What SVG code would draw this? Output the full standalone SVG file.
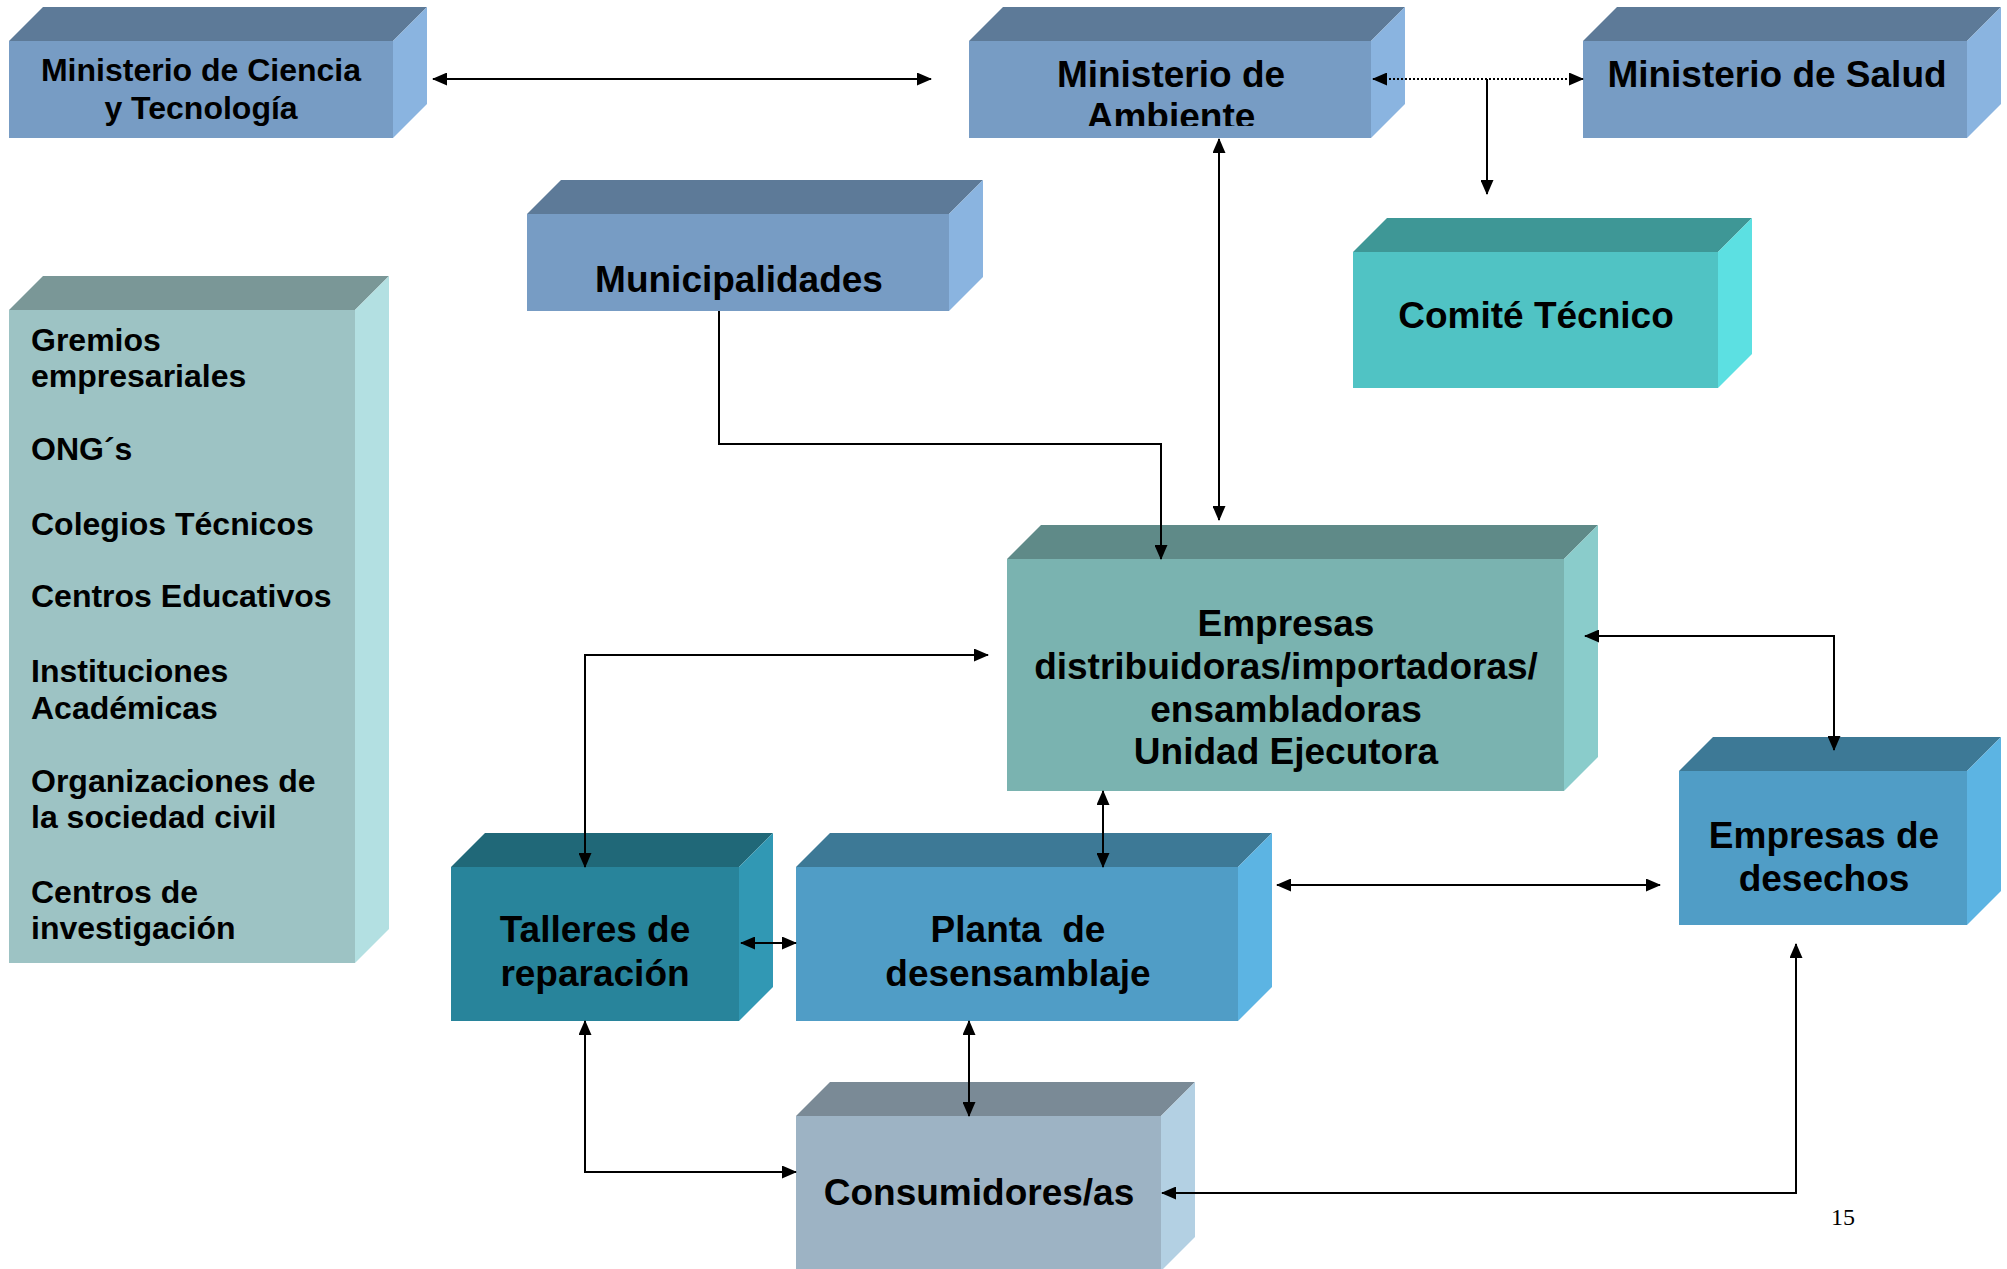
<svg xmlns="http://www.w3.org/2000/svg" width="2007" height="1269" viewBox="0 0 2007 1269">
<style>
text{font-family:"Liberation Sans",Arial,sans-serif;font-weight:bold;fill:#000}
.c{text-anchor:middle;font-size:37px}
.l{font-size:32px}
.ln{fill:none;stroke:#000;stroke-width:2}
.dot{fill:none;stroke:#000;stroke-width:2;stroke-dasharray:2 2}
</style>
<defs>
<marker id="ah" viewBox="0 0 15 13" refX="14" refY="6.5" markerWidth="15" markerHeight="13" markerUnits="userSpaceOnUse" orient="auto-start-reverse">
<path d="M0,0 L15,6.5 L0,13 Z" fill="#000"/>
</marker>
<clipPath id="clipAmb"><rect x="969" y="41" width="402" height="85"/></clipPath>
</defs>
<rect width="2007" height="1269" fill="#fff"/>

<g id="ciencia">
<polygon points="9,41 43,7 427,7 393,41" fill="#5D7A98"/>
<polygon points="393,41 427,7 427,104 393,138" fill="#8AB4E0"/>
<rect x="9" y="41" width="384" height="97" fill="#779CC4"/>
<text class="c" style="font-size:32px" x="201" y="81">Ministerio de Ciencia</text>
<text class="c" style="font-size:32px" x="201" y="119">y Tecnología</text>
</g>

<g id="ambiente">
<polygon points="969,41 1003,7 1405,7 1371,41" fill="#5D7A98"/>
<polygon points="1371,41 1405,7 1405,104 1371,138" fill="#8AB4E0"/>
<rect x="969" y="41" width="402" height="97" fill="#779CC4"/>
<g clip-path="url(#clipAmb)">
<text class="c" x="1171" y="87">Ministerio de</text>
<text class="c" x="1171" y="129">Ambiente</text>
</g>
</g>

<g id="salud">
<polygon points="1583,41 1617,7 2001,7 1967,41" fill="#5D7A98"/>
<polygon points="1967,41 2001,7 2001,104 1967,138" fill="#8AB4E0"/>
<rect x="1583" y="41" width="384" height="97" fill="#779CC4"/>
<text class="c" x="1777" y="87">Ministerio de Salud</text>
</g>

<g id="municipalidades">
<polygon points="527,214 561,180 983,180 949,214" fill="#5D7A98"/>
<polygon points="949,214 983,180 983,277 949,311" fill="#8AB4E0"/>
<rect x="527" y="214" width="422" height="97" fill="#779CC4"/>
<text class="c" x="739" y="292">Municipalidades</text>
</g>

<g id="comite">
<polygon points="1353,252 1387,218 1752,218 1718,252" fill="#3E9796"/>
<polygon points="1718,252 1752,218 1752,354 1718,388" fill="#5CE0E2"/>
<rect x="1353" y="252" width="365" height="136" fill="#50C3C4"/>
<text class="c" x="1536" y="328">Comité Técnico</text>
</g>

<g id="actores">
<polygon points="9,310 43,276 389,276 355,310" fill="#7A9797"/>
<polygon points="355,310 389,276 389,929 355,963" fill="#B3E0E2"/>
<rect x="9" y="310" width="346" height="653" fill="#9DC3C4"/>
<text class="l" x="31" y="351">Gremios</text>
<text class="l" x="31" y="387">empresariales</text>
<text class="l" x="31" y="460">ONG´s</text>
<text class="l" x="31" y="535">Colegios Técnicos</text>
<text class="l" x="31" y="607">Centros Educativos</text>
<text class="l" x="31" y="682">Instituciones</text>
<text class="l" x="31" y="719">Académicas</text>
<text class="l" x="31" y="792">Organizaciones de</text>
<text class="l" x="31" y="828">la sociedad civil</text>
<text class="l" x="31" y="903">Centros de</text>
<text class="l" x="31" y="939">investigación</text>
</g>

<g id="empresas">
<polygon points="1007,559 1041,525 1598,525 1564,559" fill="#5F8A88"/>
<polygon points="1564,559 1598,525 1598,757 1564,791" fill="#8ACCCB"/>
<rect x="1007" y="559" width="557" height="232" fill="#7AB3B0"/>
<text class="c" x="1286" y="636">Empresas</text>
<text class="c" x="1286" y="679">distribuidoras/importadoras/</text>
<text class="c" x="1286" y="722">ensambladoras</text>
<text class="c" x="1286" y="764">Unidad Ejecutora</text>
</g>

<g id="talleres">
<polygon points="451,867 485,833 773,833 739,867" fill="#206878"/>
<polygon points="739,867 773,833 773,987 739,1021" fill="#3198B4"/>
<rect x="451" y="867" width="288" height="154" fill="#28849B"/>
<text class="c" x="595" y="942">Talleres de</text>
<text class="c" x="595" y="986">reparación</text>
</g>

<g id="planta">
<polygon points="796,867 830,833 1272,833 1238,867" fill="#3D7996"/>
<polygon points="1238,867 1272,833 1272,987 1238,1021" fill="#5CB4E3"/>
<rect x="796" y="867" width="442" height="154" fill="#509DC6"/>
<text class="c" x="1018" y="942" xml:space="preserve">Planta  de</text>
<text class="c" x="1018" y="986">desensamblaje</text>
</g>

<g id="desechos">
<polygon points="1679,771 1713,737 2001,737 1967,771" fill="#3D7996"/>
<polygon points="1967,771 2001,737 2001,891 1967,925" fill="#5CB4E3"/>
<rect x="1679" y="771" width="288" height="154" fill="#509DC6"/>
<text class="c" x="1824" y="848">Empresas de</text>
<text class="c" x="1824" y="891">desechos</text>
</g>

<g id="consumidores">
<polygon points="796,1116 830,1082 1195,1082 1161,1116" fill="#7A8A96"/>
<polygon points="1161,1116 1195,1082 1195,1237 1161,1271" fill="#B3D0E3"/>
<rect x="796" y="1116" width="365" height="155" fill="#9DB3C4"/>
<text class="c" x="979" y="1205">Consumidores/as</text>
</g>

<g id="connectors">
<line class="ln" x1="433" y1="79" x2="931" y2="79" marker-start="url(#ah)" marker-end="url(#ah)"/>
<line class="dot" x1="1373" y1="79" x2="1583" y2="79" marker-start="url(#ah)" marker-end="url(#ah)"/>
<line class="ln" x1="1487" y1="79" x2="1487" y2="194" marker-end="url(#ah)"/>
<line class="ln" x1="1219" y1="139" x2="1219" y2="520" marker-start="url(#ah)" marker-end="url(#ah)"/>
<polyline class="ln" points="719,311 719,444 1161,444 1161,559" marker-end="url(#ah)"/>
<polyline class="ln" points="988,655 585,655 585,867" marker-start="url(#ah)" marker-end="url(#ah)"/>
<polyline class="ln" points="1585,636 1834,636 1834,750" marker-start="url(#ah)" marker-end="url(#ah)"/>
<line class="ln" x1="1103" y1="791" x2="1103" y2="867" marker-start="url(#ah)" marker-end="url(#ah)"/>
<line class="ln" x1="1277" y1="885" x2="1660" y2="885" marker-start="url(#ah)" marker-end="url(#ah)"/>
<line class="ln" x1="741" y1="943" x2="796" y2="943" marker-start="url(#ah)" marker-end="url(#ah)"/>
<polyline class="ln" points="585,1021 585,1172 796,1172" marker-start="url(#ah)" marker-end="url(#ah)"/>
<line class="ln" x1="969" y1="1021" x2="969" y2="1116" marker-start="url(#ah)" marker-end="url(#ah)"/>
<polyline class="ln" points="1796,944 1796,1193 1162,1193" marker-start="url(#ah)" marker-end="url(#ah)"/>
</g>

<text x="1831" y="1225" style="font-family:'Liberation Serif','Times New Roman',serif;font-weight:normal;font-size:24px">15</text>
</svg>
